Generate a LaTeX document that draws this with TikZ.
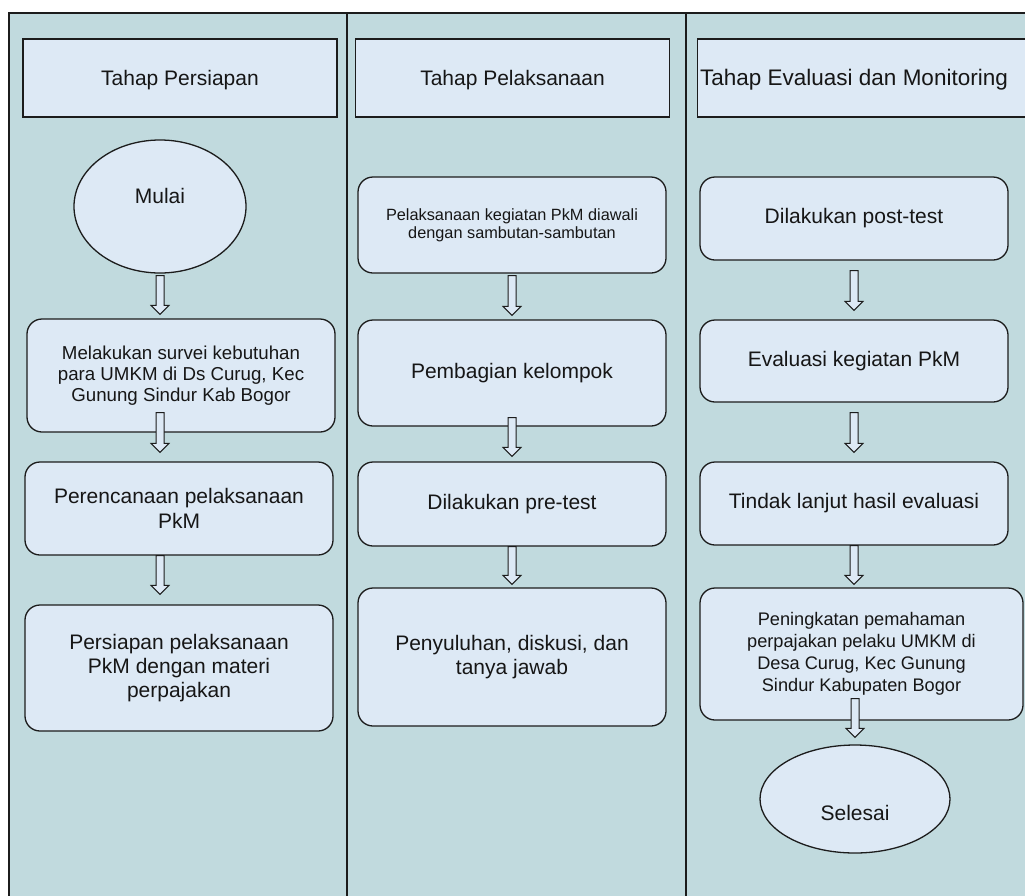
\documentclass[tikz,border=0pt]{standalone}
\usepackage{fontspec}
\setmainfont{Liberation Sans}
\usepackage{tikz}
\usetikzlibrary{shapes.geometric, positioning, calc}

\definecolor{lanefill}{RGB}{193,218,222}
\definecolor{boxfill}{RGB}{221,233,245}
\definecolor{edgecol}{RGB}{28,28,28}
\definecolor{txtcol}{RGB}{22,22,22}

\begin{document}
\begin{tikzpicture}[
  x=1pt, y=-1pt,
  headnode/.style={draw=edgecol, fill=boxfill, rectangle, line width=1.2pt, minimum width=314pt, minimum height=78pt, inner sep=0pt, text=txtcol, text height=15pt, text depth=0pt, font=\fontsize{21}{25}\selectfont},
  procnode/.style={draw=edgecol, fill=boxfill, rectangle, rounded corners=15pt, line width=1.3pt, minimum width=308pt, inner sep=0pt, align=center, text=txtcol, font=\fontsize{21}{25}\selectfont},
  termnode/.style={draw=edgecol, fill=boxfill, ellipse, line width=1.3pt, inner sep=0pt, text=txtcol, font=\fontsize{21}{25}\selectfont},
  flow/.style={draw=edgecol, fill=boxfill, line width=1pt, line join=miter,
    to path={let \p1=(\tikztostart), \p2=(\tikztotarget) in
      (\x1-4pt,\y1) -- (\x1+4pt,\y1) -- (\x1+4pt,\y2+9pt) -- (\x1+9pt,\y2+9pt)
      -- (\x1,\y2) -- (\x1-9pt,\y2+9pt) -- (\x1-4pt,\y2+9pt) -- cycle}}
]
\useasboundingbox (0,0) rectangle (1025,895);
\clip (0,0) rectangle (1025,895);

% Swimlanes
\draw[line width=2pt, draw=edgecol, fill=lanefill] (9,13) rectangle (1050,920);
\draw[line width=1.5pt, edgecol] (347,13) -- (347,920);
\draw[line width=2.4pt, edgecol] (686,13) -- (686,920);

% Lane headers
\node[headnode] (head1) at (180,78) {Tahap Persiapan};
\node[headnode] (head2) at (512.5,78) {Tahap Pelaksanaan};
\node[headnode, anchor=west, minimum width=360pt] (head3) at (697,78) {};
\node[text=txtcol, font=\fontsize{22.5}{26}\selectfont] (head3text) at (854,80) {Tahap Evaluasi dan Monitoring};

% Tahap Persiapan
\node[termnode, minimum width=172pt, minimum height=133pt, text height=15pt, text depth=22pt] (mulai) at (160,206.5) {Mulai};
\node[procnode, minimum height=113pt, font=\fontsize{18.7}{21}\selectfont] (survei) at (181,375.5)
  {Melakukan survei kebutuhan\\para UMKM di Ds Curug, Kec\\Gunung Sindur Kab Bogor};
\node[procnode, minimum height=93pt] (plan) at (179,508.5) {Perencanaan pelaksanaan\\PkM};
\node[procnode, minimum height=126pt, font=\fontsize{21}{24}\selectfont] (persiapan) at (179,668)
  {Persiapan pelaksanaan\\PkM dengan materi\\perpajakan};

% Tahap Pelaksanaan
\node[procnode, minimum height=96pt, font=\fontsize{16.3}{18}\selectfont] (kegiatan) at (512,225)
  {Pelaksanaan kegiatan PkM diawali\\dengan sambutan-sambutan};
\node[procnode, minimum height=106pt] (kelompok) at (512,373) {Pembagian kelompok};
\node[procnode, minimum height=84pt] (pretest) at (512,504) {Dilakukan pre-test};
\node[procnode, minimum height=138pt, font=\fontsize{21}{24}\selectfont] (penyuluhan) at (512,657)
  {Penyuluhan, diskusi, dan\\tanya jawab};

% Tahap Evaluasi dan Monitoring
\node[procnode, minimum height=83pt] (posttest) at (854,218.5) {Dilakukan post-test};
\node[procnode, minimum height=82pt] (evaluasi) at (854,361) {Evaluasi kegiatan PkM};
\node[procnode, minimum height=83pt] (tindak) at (854,503.5) {Tindak lanjut hasil evaluasi};
\node[procnode, minimum width=323pt, minimum height=132pt, font=\fontsize{18.2}{22}\selectfont] (peningkatan) at (861.5,654)
  {Peningkatan pemahaman\\perpajakan pelaku UMKM di\\Desa Curug, Kec Gunung\\Sindur Kabupaten Bogor};
\node[termnode, minimum width=190pt, minimum height=108pt, text height=42pt, text depth=0pt] (selesai) at (855,799) {Selesai};

% Flows
\draw[flow] ($(mulai.south)+(0,2)$) to ($(survei.north -| mulai)+(0,-4)$);
\draw[flow] ($(survei.south -| mulai)+(0,-20)$) to ($(plan.north -| mulai)+(0,-9)$);
\draw[flow] (plan.south -| mulai) to ($(persiapan.north -| mulai)+(0,-10)$);

\draw[flow] ($(kegiatan.south)+(0,2)$) to ($(kelompok.north)+(0,-4)$);
\draw[flow] ($(kelompok.south)+(0,-9)$) to ($(pretest.north)+(0,-5)$);
\draw[flow] (pretest.south) to ($(penyuluhan.north)+(0,-3)$);

\draw[flow] ($(posttest.south)+(0,10)$) to ($(evaluasi.north)+(0,-9)$);
\draw[flow] ($(evaluasi.south)+(0,10)$) to ($(tindak.north)+(0,-9)$);
\draw[flow] (tindak.south) to ($(peningkatan.north -| tindak)+(0,-3)$);
\draw[flow] ($(peningkatan.south -| selesai)+(0,-22)$) to ($(selesai.north)+(0,-7)$);
\end{tikzpicture}
\end{document}
